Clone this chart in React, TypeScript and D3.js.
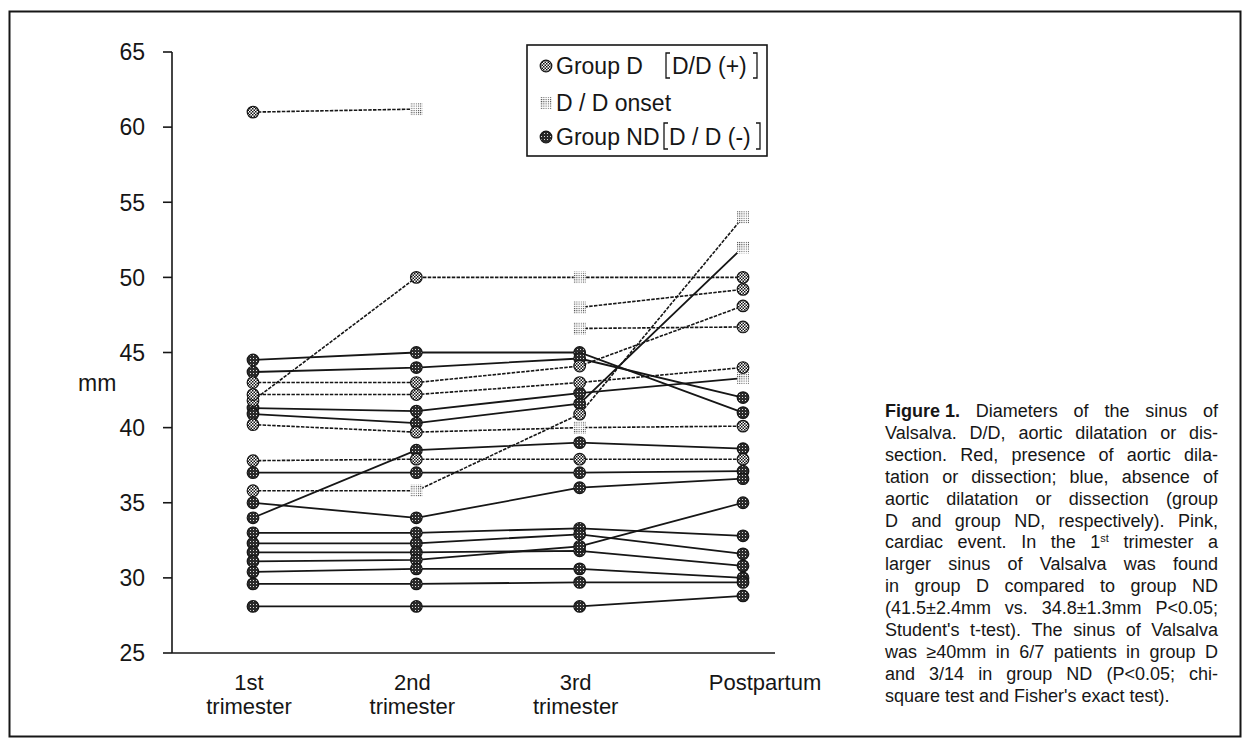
import React from "react";
import * as d3 from "d3";

// stages on the x axis
const stages = ["1st", "2nd", "3rd", "Postpartum"];
const stageLabels = [["1st", "trimester"], ["2nd", "trimester"], ["3rd", "trimester"], ["Postpartum"]];
const yTicks = [25, 30, 35, 40, 45, 50, 55, 60, 65];

// Group D [D/D (+)] patients, dashed lines (mm)
const groupDValues: (number | null)[][] = [
  [61.0, 61.2, null, null],
  [41.8, 50.0, 50.0, 50.0],
  [null, null, 48.0, 49.2],
  [null, null, 46.6, 46.7],
  [43.0, 43.0, 44.1, 48.1],
  [42.2, 42.2, 43.0, 44.0],
  [35.8, 35.8, 40.9, 54.0],
  [37.8, 37.9, 37.9, 37.9],
  [40.2, 39.7, 40.0, 40.1],
];
// stage indices where the D/D onset marker sits
const groupDOnset: number[][] = [[1], [2], [2], [2], [], [], [1, 3], [], [2]];

// Group ND [D/D (-)] patients, solid lines (mm)
const groupNDValues: (number | null)[][] = [
  [44.5, 45.0, 45.0, 41.0],
  [43.7, 44.0, 44.6, 42.0],
  [41.3, 41.1, 42.3, 43.3],
  [40.9, 40.3, 41.6, 52.0],
  [37.0, 37.0, 37.0, 37.1],
  [35.0, 34.0, 36.0, 36.6],
  [34.0, 38.5, 39.0, 38.6],
  [33.0, 33.0, 33.3, 32.8],
  [32.3, 32.3, 32.9, 31.6],
  [31.7, 31.7, 31.8, 30.8],
  [31.1, 31.2, 32.1, 35.0],
  [30.4, 30.6, 30.6, 30.0],
  [29.6, 29.6, 29.7, 29.7],
  [28.1, 28.1, 28.1, 28.8],
];
const groupNDOnset: number[][] = [[], [], [3], [3], [], [], [], [], [], [], [], [], [], []];

const captionTitle = "Figure 1.";
const captionLines = [
  "Diameters of the sinus of",
  "Valsalva. D/D, aortic dilatation or dis-",
  "section. Red, presence of aortic dila-",
  "tation or dissection; blue, absence of",
  "aortic dilatation or dissection (group",
  "D and group ND, respectively). Pink,",
  "cardiac event. In the 1|st trimester a",
  "larger sinus of Valsalva was found",
  "in group D compared to group ND",
  "(41.5±2.4mm vs. 34.8±1.3mm P<0.05;",
  "Student's t-test). The sinus of Valsalva",
  "was ≥40mm in 6/7 patients in group D",
  "and 3/14 in group ND (P<0.05; chi-",
  "square test and Fisher's exact test).",
];

const FONT = "'Liberation Sans', Arial, Helvetica, sans-serif";
const INK = "#161616";

const x = d3.scalePoint<string>().domain(stages).range([253, 743]);
const y = d3.scaleLinear().domain([25, 65]).range([653, 52]);

const lineGen = d3
  .line<number | null>()
  .defined((v) => v != null)
  .x((_, i) => x(stages[i]) as number)
  .y((v) => y(v as number));

// text measuring for the justified caption
let measureCtx: CanvasRenderingContext2D | null = null;
function measure(text: string, size: number, weight = "normal") {
  if (!measureCtx) measureCtx = document.createElement("canvas").getContext("2d");
  if (!measureCtx) return text.length * size * 0.5;
  measureCtx.font = `${weight} ${size}px "Liberation Sans", Arial, sans-serif`;
  return measureCtx.measureText(text).width;
}

function Marker({ cx, cy, kind }: { cx: number; cy: number; kind: string }) {
  if (kind === "onset") {
    return <rect x={cx - 6} y={cy - 6} width={12} height={12} fill="url(#patOnset)" />;
  }
  return (
    <circle
      cx={cx}
      cy={cy}
      r={5.8}
      fill={kind === "d" ? "url(#patD)" : "url(#patND)"}
      stroke={INK}
      strokeWidth={1.2}
    />
  );
}

function Series({ values, dashed }: { values: (number | null)[][]; dashed: boolean }) {
  return (
    <g>
      {values.map((vals, k) => (
        <path
          key={"l" + k}
          d={lineGen(vals) || ""}
          fill="none"
          stroke={INK}
          strokeWidth={dashed ? 1.6 : 1.8}
          strokeDasharray={dashed ? "3.5 1.3" : undefined}
        />
      ))}
    </g>
  );
}

function Markers({ values, onset, kind }: { values: (number | null)[][]; onset: number[][]; kind: string }) {
  const out: JSX.Element[] = [];
  values.forEach((vals, k) => {
    vals.forEach((v, i) => {
      if (v == null) return;
      out.push(
        <Marker
          key={k + "-" + i}
          cx={x(stages[i]) as number}
          cy={y(v)}
          kind={onset[k].includes(i) ? "onset" : kind}
        />
      );
    });
  });
  return <g>{out}</g>;
}

type Tok = { text: string; bold?: boolean; sup?: string };

function Caption() {
  const left = 885;
  const width = 333;
  const top = 417;
  const step = 21.9;
  const fs = 18;
  const supFs = 11;
  return (
    <g fontFamily={FONT} fontSize={fs} fill={INK}>
      {captionLines.map((ln, i) => {
        const toks: Tok[] = ln.split(" ").map((w) => {
          if (w.includes("|")) {
            const [a, b] = w.split("|");
            return { text: a, sup: b };
          }
          return { text: w };
        });
        if (i === 0) toks.unshift({ text: captionTitle, bold: true });
        const widths = toks.map(
          (t) => measure(t.text, fs, t.bold ? "bold" : "normal") + (t.sup ? measure(t.sup, supFs) : 0)
        );
        const total = widths.reduce((a, b) => a + b, 0);
        const last = i === captionLines.length - 1;
        const gap = last ? measure(" ", fs) : (width - total) / (toks.length - 1);
        let pos = left;
        const yy = top + i * step;
        return (
          <g key={i}>
            {toks.map((t, k) => {
              const px = pos;
              pos += widths[k] + gap;
              return (
                <text key={k} x={px} y={yy} fontWeight={t.bold ? "bold" : undefined}>
                  {t.text}
                  {t.sup && (
                    <tspan fontSize={supFs} dy={-6}>
                      {t.sup}
                    </tspan>
                  )}
                </text>
              );
            })}
          </g>
        );
      })}
    </g>
  );
}

function Legend() {
  const bx = 527;
  const by = 45;
  const rows = [66, 103, 137];
  const bracket = (xx: number, yTop: number, yBot: number, open: boolean) => {
    const d = open ? -4 : 4;
    return (
      <path
        d={`M${xx - d},${yTop} H${xx} V${yBot} H${xx - d}`}
        fill="none"
        stroke={INK}
        strokeWidth={1.3}
      />
    );
  };
  return (
    <g fontFamily={FONT} fontSize={23} fill={INK}>
      <rect x={bx} y={by} width={240} height={111} fill="#fff" stroke={INK} strokeWidth={1.6} />
      <Marker cx={546} cy={rows[0]} kind="d" />
      <text x={556} y={rows[0] + 8}>Group D</text>
      {bracket(666, rows[0] - 13, rows[0] + 12, true)}
      <text x={672} y={rows[0] + 8}>D/D (+)</text>
      {bracket(757, rows[0] - 13, rows[0] + 12, false)}

      <Marker cx={546} cy={rows[1]} kind="onset" />
      <text x={556} y={rows[1] + 8}>D / D onset</text>

      <Marker cx={546} cy={rows[2]} kind="nd" />
      <text x={556} y={rows[2] + 8}>Group ND</text>
      {bracket(664, rows[2] - 14, rows[2] + 12, true)}
      <text x={669} y={rows[2] + 8}>D / D (-)</text>
      {bracket(760, rows[2] - 14, rows[2] + 12, false)}
    </g>
  );
}

export default function App() {
  const axisX = 172;
  const axisEnd = 775;
  return (
    <div style={{ position: "fixed", left: 0, top: 0 }}>
      <svg width={1249} height={741} style={{ display: "block", background: "#fff" }}>
        <defs>
          <pattern id="patD" width={3} height={3} patternUnits="userSpaceOnUse">
            <rect width={3} height={3} fill="#fff" />
            <rect width={1.5} height={1.5} fill="#111" />
            <rect x={1.5} y={1.5} width={1.5} height={1.5} fill="#111" />
          </pattern>
          <pattern id="patND" width={3} height={3} patternUnits="userSpaceOnUse">
            <rect width={3} height={3} fill="#2a2a2a" />
            <rect x={1} y={1} width={1} height={1} fill="#ddd" />
          </pattern>
          <pattern id="patOnset" width={2.2} height={2.2} patternUnits="userSpaceOnUse">
            <rect width={2.2} height={2.2} fill="#fff" />
            <rect width={1} height={1} fill="#333" />
          </pattern>
        </defs>

        {/* outer frame */}
        <rect x={9.5} y={11.5} width={1231} height={725} fill="none" stroke={INK} strokeWidth={2} />

        {/* y axis */}
        <line x1={axisX} x2={axisX} y1={y(65)} y2={y(25)} stroke={INK} strokeWidth={1.6} />
        {yTicks.map((t) => (
          <g key={t}>
            <line x1={axisX - 9} x2={axisX} y1={y(t)} y2={y(t)} stroke={INK} strokeWidth={1.6} />
            <text
              x={145}
              y={y(t)}
              dy="0.36em"
              textAnchor="end"
              fontFamily={FONT}
              fontSize={23}
              fill={INK}
            >
              {t}
            </text>
          </g>
        ))}
        <text x={78} y={383} dy="0.36em" fontFamily={FONT} fontSize={23} fill={INK}>
          mm
        </text>

        {/* x axis */}
        <line x1={axisX} x2={axisEnd} y1={y(25)} y2={y(25)} stroke={INK} strokeWidth={1.6} />
        {stageLabels.map((lbl, i) => {
          const lx = (x(stages[i]) as number) + (i === 3 ? 22 : -4);
          return (
            <text key={i} x={lx} y={690} textAnchor="middle" fontFamily={FONT} fontSize={22} fill={INK}>
              {lbl.map((w, j) => (
                <tspan key={j} x={lx} dy={j === 0 ? 0 : 24}>
                  {w}
                </tspan>
              ))}
            </text>
          );
        })}

        <Series values={groupNDValues} dashed={false} />
        <Series values={groupDValues} dashed={true} />
        <Markers values={groupNDValues} onset={groupNDOnset} kind="nd" />
        <Markers values={groupDValues} onset={groupDOnset} kind="d" />

        <Legend />
        <Caption />
      </svg>
    </div>
  );
}
